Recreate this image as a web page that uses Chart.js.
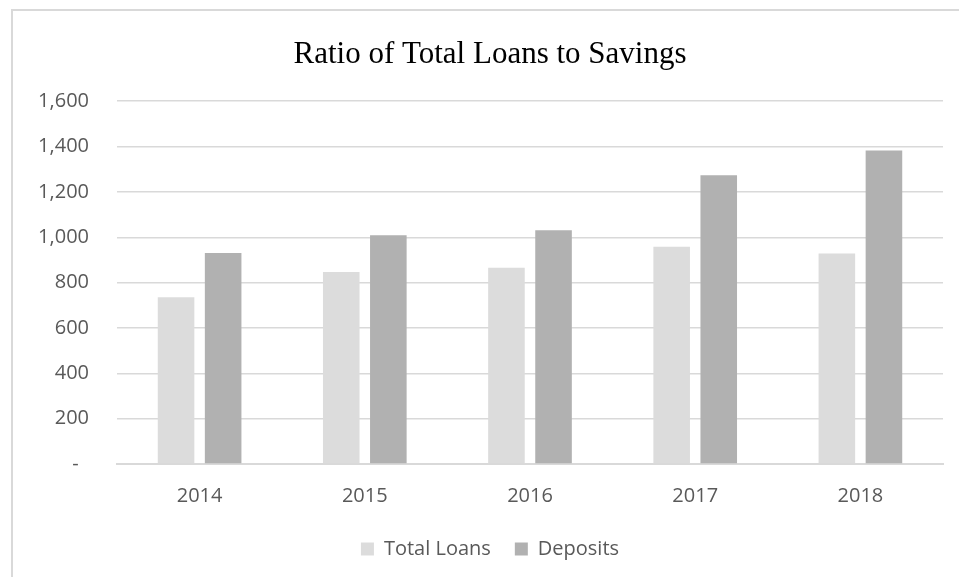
<!DOCTYPE html>
<html>
<head>
<meta charset="utf-8">
<script src="https://cdn.jsdelivr.net/npm/chart.js@4.4.1/dist/chart.umd.min.js"></script>
<style>
  html, body { margin: 0; padding: 0; background: #fff; }
  body { width: 959px; height: 577px; position: relative; overflow: hidden; }
  #frame { position: absolute; left: 11px; top: 9px; width: 960px; height: 580px;
           border-left: 2px solid #d9d9d9; border-top: 2px solid #d9d9d9; }
  #wrap { position: absolute; left: 0; top: 0; width: 959px; height: 577px; }
</style>
</head>
<body>
<div id="frame"></div>
<div id="wrap"><canvas id="chart"></canvas></div>
<script>
const categories = ['2014', '2015', '2016', '2017', '2018'];
const totalLoans = [735, 847, 866, 958, 928];
const deposits = [930, 1009, 1031, 1273, 1383];
const yTickLabels = ['-  ', '200', '400', '600', '800', '1,000', '1,200', '1,400', '1,600'];

document.addEventListener('DOMContentLoaded', function() {
  const ctx = document.getElementById('chart');
  Chart.defaults.font.family = "'Open Sans', sans-serif";
  Chart.defaults.color = '#595959';

  new Chart(ctx.getContext('2d'), {
    type: 'bar',
    data: {
      labels: categories,
      datasets: [
        { label: 'Total Loans', data: totalLoans, backgroundColor: '#dcdcdc', categoryPercentage: 0.57, barPercentage: 0.777 },
        { label: 'Deposits', data: deposits, backgroundColor: '#b1b1b1', categoryPercentage: 0.57, barPercentage: 0.777 }
      ]
    },
    options: {
      responsive: true,
      maintainAspectRatio: false,
      animation: false,
      layout: { padding: { left: 37, right: 16, top: 0, bottom: 8 } },
      plugins: {
        title: {
          display: true,
          text: 'Ratio of Total Loans to Savings',
          color: '#000',
          font: { family: "'Liberation Serif', 'Times New Roman', serif", size: 31, weight: 'normal' },
          padding: { top: 36, bottom: 28 }
        },
        legend: {
          position: 'bottom',
          labels: { boxWidth: 13, boxHeight: 13, padding: 24, font: { size: 20 } }
        },
        tooltip: { enabled: false }
      },
      scales: {
        x: {
          afterFit: s => { s.height = 51; },
          grid: { display: false, drawTicks: false },
          border: { display: true, color: '#d9d9d9', width: 2 },
          ticks: { padding: 20, font: { size: 20 }, maxRotation: 0 }
        },
        y: {
          min: 0,
          max: 1600,
          afterFit: s => { s.width = 80; },
          grid: { color: '#d9d9d9', lineWidth: 1.5, drawTicks: false },
          border: { display: false },
          ticks: { stepSize: 200, padding: 28, font: { size: 20 }, callback: (v, i) => yTickLabels[i] }
        }
      }
    }
  });
});
</script>
</body>
</html>
